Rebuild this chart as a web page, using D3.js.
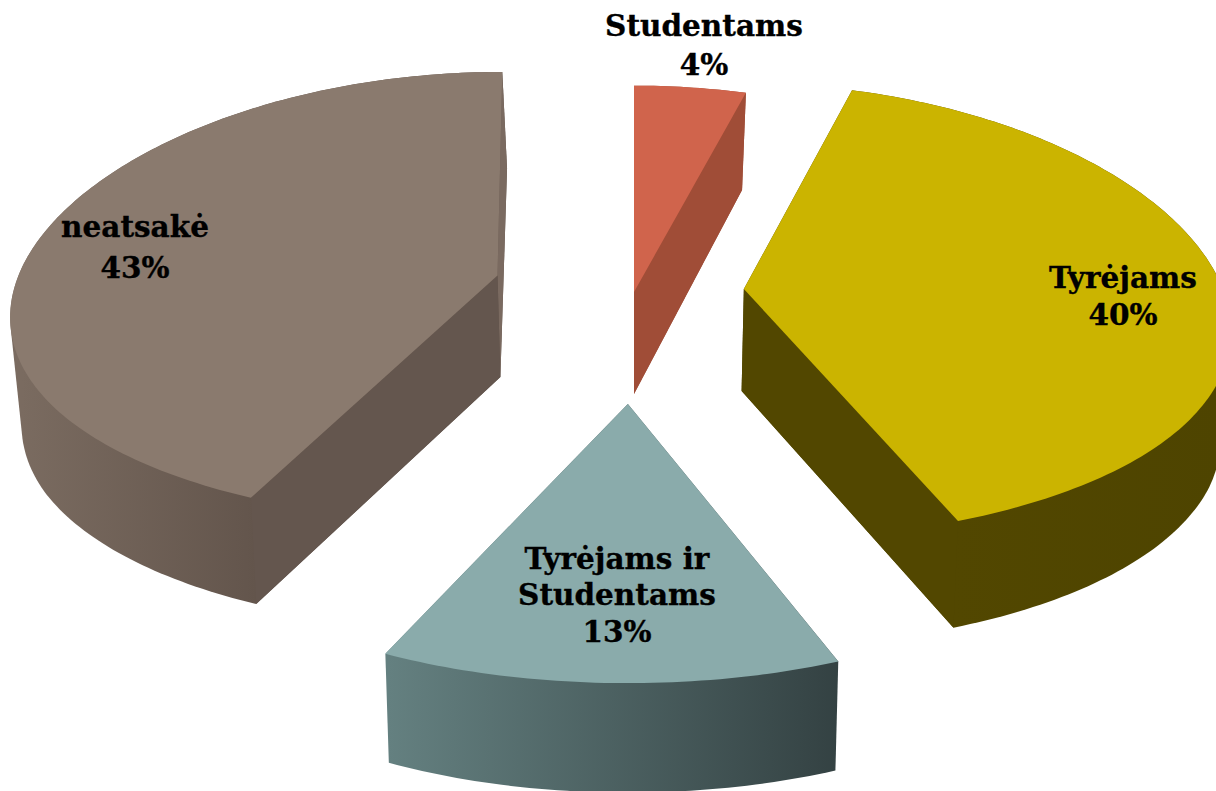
<!DOCTYPE html>
<html><head><meta charset="utf-8">
<script src="https://cdnjs.cloudflare.com/ajax/libs/d3/7.8.5/d3.min.js"></script>
<style>html,body{margin:0;padding:0;background:#fff;overflow:hidden}svg{display:block}
text{font-family:"DejaVu Serif",serif;font-weight:700;fill:#000;stroke:#000;stroke-width:.35;text-anchor:middle}</style>
</head><body><svg id="c" width="1216" height="791"></svg>
<script>
const categories = ["Studentams", "Tyrėjams", "Tyrėjams ir Studentams", "neatsakė"];
const values = [4.4, 39.6, 13, 43];
const explosion = [0, 0.265, 0.47, 0.337];
const labelLines = [["Studentams"],["Tyrėjams"],["Tyrėjams ir","Studentams"],["neatsakė"]];
const topColors = ["#d0644c","#cbb400","#8aabab","#8a7a6e"];
const startCutColors = ["#a04d37","#524700","#4f6465","#64564e"];
const endCutColors = ["#a04d37","#524700","#4f6465","#7a6a60"];
const wallFrom = ["#a04d37","#524700","#648080","#7a6b60"];
const wallTo = ["#a04d37","#4e4400","#344243","#63554c"];

const W=1216,H=791,cx=634,cy=292,rxBase=479,kx=.175,kOffset=.035,ryBase=227,ky=.10,offsetScaleX=415,depth=102;
const svg=d3.select("#c");
const defs=svg.append("defs");
const pie=d3.pie().sort(null).value(d=>d)(values);
const line=d3.line();

function project(a,Xl,Yl,z){
  const Y=a.Y+Yl;
  let x=cx+offsetScaleX*a.X*(1+kOffset*Yl)+Xl*rxBase/(1-kx*Yl);
  let y=cy+ryBase*Y/(1-ky*Y);
  if(z){ x=cx+(x-cx)*Math.min(.986,.98+.015*Y); y+=depth*(1+.05*Y); }
  return [x,y];
}
const slices=pie.map((p,i)=>{
  const mid=(p.startAngle+p.endAngle)/2;
  const e=explosion[i];
  return {p,i,apex:{X:e*Math.sin(mid),Y:-e*Math.cos(mid)}};
});
function arcPts(s,z){
  const n=Math.max(8,Math.round((s.p.endAngle-s.p.startAngle)*60));
  return d3.range(n+1).map(j=>{
    const t=s.p.startAngle+(s.p.endAngle-s.p.startAngle)*j/n;
    return project(s.apex,Math.sin(t),-Math.cos(t),z);
  });
}
[3,0,1,2].forEach(i=>{
  const s=slices[i];
  const g=svg.append("g");
  const top=arcPts(s,false),bot=arcPts(s,true);
  const a0=project(s.apex,0,0,false),a1=project(s.apex,0,0,true);
  const front=d3.range(bot.length).filter(j=>bot[j][1]>=a1[1]).map(j=>bot[j][0]);
  const xs=front.length?front:bot.map(d=>d[0]);
  const grad=defs.append("linearGradient").attr("id","w"+i).attr("gradientUnits","userSpaceOnUse")
    .attr("x1",d3.min(xs)).attr("x2",d3.max(xs)).attr("y1",0).attr("y2",0);
  grad.append("stop").attr("offset",0).attr("stop-color",wallFrom[i]);
  grad.append("stop").attr("offset",1).attr("stop-color",wallTo[i]);
  const hull=d3.polygonHull([a0,a1,...top,...bot]);
  g.append("path").attr("d",line(hull)+"Z").attr("fill",`url(#w${i})`);
  // a cut face is drawn only when its outward normal turns toward the viewer
  if(Math.sin(s.p.endAngle)>-1e-6)
    g.append("path").attr("d",line([a0,top[top.length-1],bot[bot.length-1],a1])+"Z").attr("fill",endCutColors[i]);
  if(Math.sin(s.p.startAngle)<-1e-6)
    g.append("path").attr("d",line([a0,top[0],bot[0],a1])+"Z").attr("fill",startCutColors[i]);
  g.append("path").attr("d",line([a0,...top])+"Z").attr("fill",topColors[i]);
});
const labelAnchor=[[704,[36,75]],[1123,[288,325]],[617,[569,605,642]],[135,[237,278]]];
labelLines.forEach((ls,i)=>{
  const [x,ys]=labelAnchor[i];
  [...ls,Math.round(values[i])+"%"].forEach((t,j)=>svg.append("text").attr("x",x).attr("y",ys[j]).attr("font-size",29.5).text(t));
});
</script></body></html>
